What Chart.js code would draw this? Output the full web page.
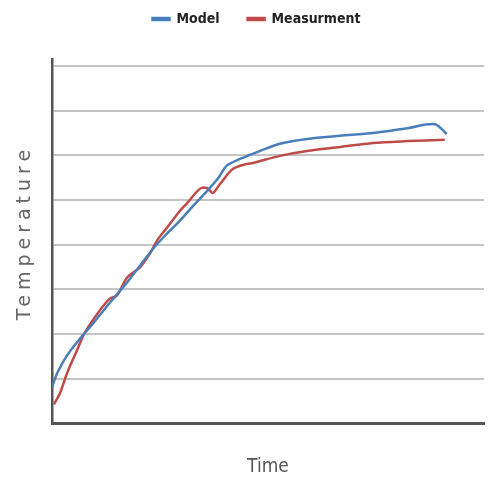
<!DOCTYPE html>
<html>
<head>
<meta charset="utf-8">
<script src="https://cdn.jsdelivr.net/npm/chart.js@4"></script>
<style>
  html, body { margin: 0; padding: 0; background: #fff; }
  #wrap { width: 493px; height: 482px; }
</style>
</head>
<body>
<div id="wrap"><canvas id="chart" width="493" height="482"></canvas></div>
<script>
// === DATOS ===
const modelTime = [0, 1.3, 3.8, 7.1, 10.3, 14.6, 18.9, 22.2, 25.5, 28.5, 32.3, 35.5, 39.1, 42, 44.1, 47.4, 52.5, 57.5, 64.3, 72.7, 81.0, 89.6, 96.6, 99.6];
const modelTemp = [0.80, 1.12, 1.52, 1.90, 2.23, 2.70, 3.15, 3.53, 3.91, 4.20, 4.54, 4.86, 5.20, 5.50, 5.77, 5.92, 6.10, 6.26, 6.37, 6.44, 6.50, 6.61, 6.70, 6.48];

const measTime = [0.5, 2, 3.8, 6.3, 8.3, 12.1, 14.6, 16.4, 18.9, 22.2, 24.7, 26.5, 29, 32.3, 34, 37.3, 39.1, 40.6, 42.4, 45.7, 49.2, 50.7, 57.5, 64.3, 72.7, 81.0, 89.6, 99.1];
const measTemp = [0.42, 0.67, 1.12, 1.63, 2.03, 2.53, 2.79, 2.86, 3.26, 3.49, 3.80, 4.09, 4.38, 4.76, 4.92, 5.25, 5.27, 5.16, 5.36, 5.70, 5.81, 5.83, 5.99, 6.10, 6.19, 6.28, 6.32, 6.35];

const yGridValues = [0, 1, 2, 3, 4, 5, 6, 7, 8];
const seriesNames = ["Model", "Measurment"];
const yTitle = "Temperature";
const xTitle = "Time";

const narrowFont = "'Liberation Sans Narrow', 'DejaVu Sans Condensed', 'Arial Narrow', sans-serif";
const toPoints = (xs, ys) => xs.map((x, i) => ({ x, y: ys[i] }));

// === ESPACIO BAJO LA LEYENDA ===
const legendGap = {
  id: "legendGap",
  beforeInit(chart) {
    const fitOrig = chart.legend.fit;
    chart.legend.fit = function () {
      fitOrig.call(this);
      this.height += 23;
    };
  }
};

// === TITULO Y (con espaciado de letras) ===
const yTitlePlugin = {
  id: "yTitle",
  afterDraw(chart) {
    const ctx = chart.ctx;
    ctx.save();
    ctx.translate(25, 235);
    ctx.rotate(-Math.PI / 2);
    ctx.font = "19px 'DejaVu Sans'";
    ctx.letterSpacing = "5px";
    ctx.fillStyle = "#666";
    ctx.textAlign = "center";
    ctx.textBaseline = "middle";
    ctx.fillText(yTitle, 2.5, 0);
    ctx.restore();
  }
};

new Chart(document.getElementById("chart"), {
  type: "line",
  data: {
    datasets: [
      {
        label: seriesNames[0],
        data: toPoints(modelTime, modelTemp),
        borderColor: "#4a7ebb",
        backgroundColor: "#4a7ebb",
        borderWidth: 2.5,
        pointRadius: 0,
        tension: 0.3
      },
      {
        label: seriesNames[1],
        data: toPoints(measTime, measTemp),
        borderColor: "#be4b48",
        backgroundColor: "#be4b48",
        borderWidth: 2.5,
        pointRadius: 0,
        tension: 0.3
      }
    ]
  },
  options: {
    responsive: false,
    animation: false,
    layout: { padding: { left: 29, right: 9, top: -16, bottom: 4 } },
    plugins: {
      legend: {
        position: "top",
        labels: {
          boxWidth: 17,
          boxHeight: 2,
          padding: 28,
          color: "#222",
          font: { family: narrowFont, size: 14, weight: "bold" }
        }
      },
      tooltip: { enabled: false }
    },
    scales: {
      x: {
        type: "linear",
        min: 0,
        max: 109,
        ticks: { display: false },
        grid: { display: false, drawTicks: false },
        border: { display: true, color: "#555", width: 3 },
        title: {
          display: true,
          text: xTitle,
          color: "#555",
          font: { family: narrowFont, size: 19 },
          padding: { top: 32, bottom: 0 }
        }
      },
      y: {
        min: 0,
        max: 8.16,
        afterFit: (s) => { s.width = 23; },
        afterBuildTicks: (s) => { s.ticks = yGridValues.map((v) => ({ value: v })); },
        ticks: { display: false },
        grid: {
          drawTicks: false,
          lineWidth: 2,
          color: (c) => (c.tick && c.tick.value > 0 ? "#c4c4c4" : "rgba(0,0,0,0)")
        },
        border: { display: true, color: "#555", width: 2.5 }
      }
    }
  },
  plugins: [legendGap, yTitlePlugin]
});
</script>
</body>
</html>
